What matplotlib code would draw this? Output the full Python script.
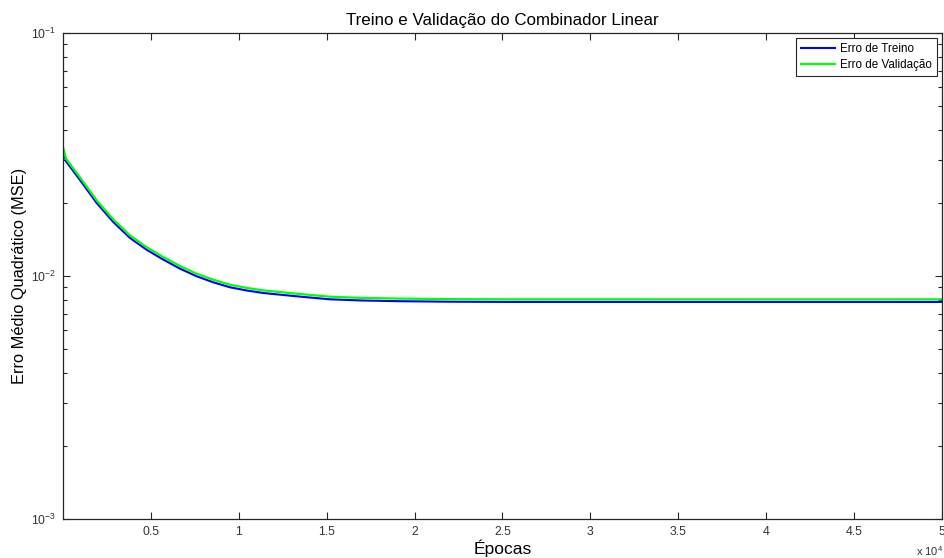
import matplotlib
matplotlib.use("Agg")
import matplotlib.pyplot as plt
from matplotlib.ticker import FixedLocator, FuncFormatter, LogLocator, NullFormatter

plt.rcParams['font.family'] = ['Liberation Sans', 'DejaVu Sans']
plt.rcParams['mathtext.default'] = 'regular'

epochs = [1, 171, 1000, 1917, 2860, 3811, 4760, 5706, 6650, 7605, 8550, 9500,
          10450, 11394, 13294, 15188, 17000, 19200, 22000, 25000, 50000]
erro_treino = [0.03312, 0.02965, 0.02465, 0.01997, 0.01668, 0.01434, 0.01282,
               0.01168, 0.010726, 0.009972, 0.009420, 0.008985, 0.008716,
               0.008511, 0.008249, 0.008018, 0.007928, 0.007875, 0.007838,
               0.007823, 0.007820]
erro_validacao = [0.03395, 0.03039, 0.02526, 0.02047, 0.01710, 0.01469, 0.01314,
                  0.01197, 0.010994, 0.010221, 0.009655, 0.009208, 0.008934,
                  0.008724, 0.008455, 0.008219, 0.008125, 0.008072, 0.008033,
                  0.008018, 0.008015]
x_ticks = [5000, 10000, 15000, 20000, 25000, 30000, 35000, 40000, 45000, 50000]

fig = plt.figure(figsize=(9.44, 5.58), dpi=100)
ax = fig.add_axes([63/944, 1 - 519/558, (942-63)/944, (519-33)/558])

ax.plot(epochs, erro_treino, color='#0000ff', lw=1.5, label='Erro de Treino')
ax.plot(epochs, erro_validacao, color='#00ff00', lw=1.6, label='Erro de Validação')

ax.set_yscale('log')
ax.set_ylim(1e-3, 1e-1)
ax.set_xlim(1, 50000)

ax.xaxis.set_major_locator(FixedLocator(x_ticks))
ax.xaxis.set_major_formatter(FuncFormatter(lambda v, p: f"{v/1e4:g}"))
ax.yaxis.set_major_locator(LogLocator(base=10, numticks=10))
ax.yaxis.set_minor_locator(LogLocator(base=10, subs=range(2, 10), numticks=20))
ax.yaxis.set_minor_formatter(NullFormatter())

edge = '0.15'
for s in ax.spines.values():
    s.set_color(edge)
    s.set_linewidth(0.9)
ax.tick_params(which='both', direction='in', top=True, right=True, colors=edge,
               labelsize=8.8, labelcolor='0.2')
ax.tick_params(which='major', length=5, width=0.8, pad=5)
ax.tick_params(which='minor', length=3, width=0.8)

ax.set_title('Treino e Validação do Combinador Linear', fontsize=12.2, pad=6)
ax.set_xlabel('Épocas', fontsize=12.5, labelpad=1)
ax.set_ylabel('Erro Médio Quadrático (MSE)', fontsize=11.8, labelpad=3)

fig.text(0.9995, 0.0, r'x $10^{4}$', ha='right', va='bottom', fontsize=8, color='0.2')

leg = ax.legend(loc='upper right', fontsize=8.4, fancybox=False, framealpha=1,
                edgecolor='0.15', borderaxespad=0.45, handlelength=2.85,
                handletextpad=0.43, borderpad=0.45, labelspacing=0.3)
leg.get_frame().set_linewidth(0.8)

fig.savefig('out.png', dpi=100)
